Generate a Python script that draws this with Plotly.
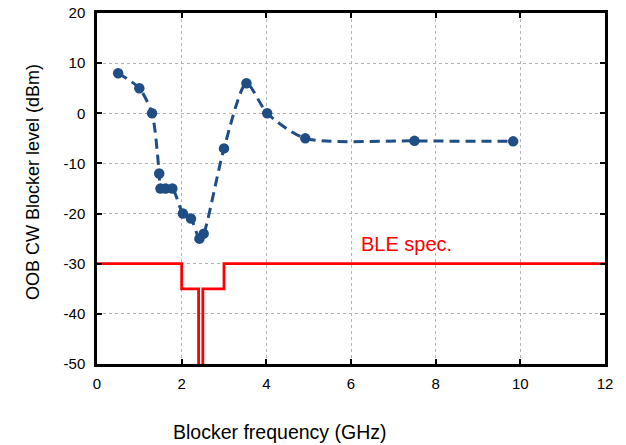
import plotly.graph_objects as go

# Measured data
freq_ghz = [0.5, 1.0, 1.3, 1.47, 1.5, 1.62, 1.78, 2.03, 2.22, 2.42, 2.52, 3.0, 3.53, 4.02, 4.92, 7.5, 9.83]
level_dbm = [8, 5, 0, -12, -15, -15, -15, -20, -21, -25, -24, -7, 6, 0, -5.0, -5.5, -5.6]

# BLE spec mask
spec_x = [0, 2.0, 2.0, 2.4, 2.4, 2.5, 2.5, 3.0, 3.0, 12]
spec_y = [-30, -30, -35, -35, -60, -60, -35, -35, -30, -30]

x_ticks = [0, 2, 4, 6, 8, 10, 12]
y_ticks = [20, 10, 0, -10, -20, -30, -40, -50]

FONT = "Liberation Sans, Arial, sans-serif"
BLUE = "#1f4e85"
RED = "#ff0000"

L, R, T, B = 97, 21, 13, 81
W, H = 626, 445
PW, PH = W - L - R, H - T - B

fig = go.Figure()
fig.add_trace(go.Scatter(
    x=spec_x, y=spec_y, mode="lines",
    line=dict(color=RED, width=2.8), showlegend=False, hoverinfo="skip"))
fig.add_trace(go.Scatter(
    x=freq_ghz, y=level_dbm, mode="lines+markers",
    line=dict(color=BLUE, width=3, dash="10px,6px", shape="spline", smoothing=0.7),
    marker=dict(color=BLUE, size=10.5), showlegend=False))

axis_common = dict(
    showline=True, linecolor="black", linewidth=2.5, mirror="ticks",
    ticks="inside", ticklen=5, tickwidth=1.5, tickcolor="black",
    showgrid=True, gridcolor="#b4b4b4", gridwidth=1, griddash="dot",
    zeroline=False, automargin=False,
    tickfont=dict(family=FONT, size=15, color="black"),
)
fig.update_xaxes(range=[0, 12], tickvals=x_ticks, ticktext=[str(v) for v in x_ticks],
                 ticklabelstandoff=4, **axis_common)
fig.update_yaxes(range=[-50, 20], tickvals=y_ticks, ticktext=[str(v) for v in y_ticks],
                 ticklabelstandoff=6, **axis_common)

fig.add_annotation(text="BLE spec.", x=7.32, y=-26.0, xref="x", yref="y",
                   showarrow=False, font=dict(family=FONT, size=20, color=RED))
fig.add_annotation(text="Blocker frequency (GHz)", x=(279.5 - L) / PW, y=(T + PH - 432) / PH,
                   xref="paper", yref="paper", xanchor="center", yanchor="middle",
                   showarrow=False, font=dict(family=FONT, size=19.5, color="black"))
fig.add_annotation(text="OOB CW Blocker level (dBm)", x=(33 - L) / PW, y=(T + PH - 182) / PH,
                   xref="paper", yref="paper", xanchor="center", yanchor="middle",
                   showarrow=False, textangle=-90,
                   font=dict(family=FONT, size=18, color="black"))

fig.update_layout(
    width=W, height=H,
    margin=dict(l=L, r=R, t=T, b=B),
    paper_bgcolor="white", plot_bgcolor="white",
    font=dict(family=FONT, color="black"),
)
fig.write_html("out.html")
